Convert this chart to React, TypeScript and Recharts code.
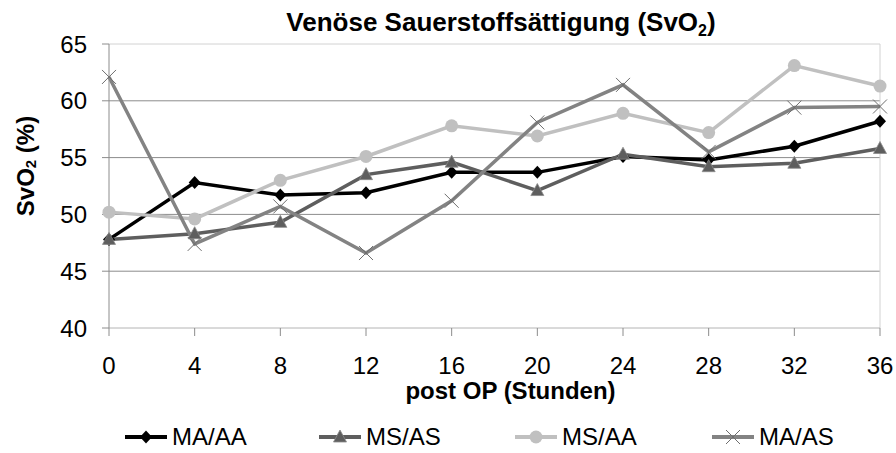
import { LineChart, Line, XAxis, YAxis, CartesianGrid, ReferenceLine, Legend } from "recharts";

// Messzeitpunkte (Stunden post OP)
const hours = [0, 4, 8, 12, 16, 20, 24, 28, 32, 36];
const yTicks = [40, 45, 50, 55, 60, 65];

// SvO2-Werte je Gruppe
const maAA = [47.8, 52.8, 51.7, 51.9, 53.7, 53.7, 55.1, 54.8, 56.0, 58.2];
const msAS = [47.8, 48.3, 49.3, 53.5, 54.6, 52.1, 55.3, 54.2, 54.5, 55.8];
const msAA = [50.2, 49.6, 53.0, 55.1, 57.8, 56.9, 58.9, 57.2, 63.1, 61.3];
const maAS = [62.1, 47.4, 50.7, 46.6, 51.2, 58.1, 61.4, 55.5, 59.4, 59.5];

const data = hours.map((h, i) => ({
  h,
  maAA: maAA[i],
  msAS: msAS[i],
  msAA: msAA[i],
  maAS: maAS[i],
}));

type MarkerProps = { cx: number; cy: number; color: string };

const Diamond = ({ cx, cy, color }: MarkerProps) => (
  <polygon points={`${cx},${cy - 6.5} ${cx + 6},${cy} ${cx},${cy + 6.5} ${cx - 6},${cy}`} fill={color} />
);
const Triangle = ({ cx, cy, color }: MarkerProps) => (
  <polygon points={`${cx},${cy - 7} ${cx + 6.5},${cy + 5} ${cx - 6.5},${cy + 5}`} fill={color} stroke="#8a8a8a" strokeWidth={0.8} />
);
const Circle = ({ cx, cy, color }: MarkerProps) => <circle cx={cx} cy={cy} r={6.5} fill={color} />;
const Cross = ({ cx, cy }: MarkerProps) => (
  <g stroke="#6e6e6e" strokeWidth={1}>
    <line x1={cx - 7} y1={cy - 7} x2={cx + 7} y2={cy + 7} />
    <line x1={cx - 7} y1={cy + 7} x2={cx + 7} y2={cy - 7} />
  </g>
);

const series = [
  { key: "maAA", name: "MA/AA", color: "#000000", marker: Diamond },
  { key: "msAS", name: "MS/AS", color: "#5e5e5e", marker: Triangle },
  { key: "msAA", name: "MS/AA", color: "#c0c0c0", marker: Circle },
  { key: "maAS", name: "MA/AS", color: "#838383", marker: Cross },
];

const legendLeft = [125, 319, 515, 712];

const LegendBox = () => (
  <div style={{ position: "relative", width: 896, height: 40 }}>
    {series.map((s, i) => {
      const M = s.marker;
      return (
        <div
          key={s.key}
          style={{ position: "absolute", left: legendLeft[i], top: 4, height: 40, display: "flex", alignItems: "center" }}
        >
          <svg width={42} height={18}>
            <line x1={0} y1={9} x2={42} y2={9} stroke={s.color} strokeWidth={4} />
            <M cx={21} cy={9} color={s.color} />
          </svg>
          <span style={{ fontSize: 24, marginLeft: 5, color: "#000" }}>{s.name}</span>
        </div>
      );
    })}
  </div>
);

const YLabel = (props: any) => {
  const vb = props.viewBox;
  const cx = vb.x + 25;
  const cy = vb.y + vb.height / 2 - 20;
  return (
    <text
      x={cx}
      y={cy}
      transform={`rotate(-90 ${cx} ${cy})`}
      textAnchor="middle"
      dominantBaseline="central"
      fontSize={24}
      fontWeight="bold"
      fill="#000"
    >
      SvO
      <tspan fontSize={15} dy={5}>2</tspan>
      <tspan dy={-5}> (%)</tspan>
    </text>
  );
};

const XLabel = (props: any) => {
  const vb = props.viewBox;
  return (
    <text x={vb.x + vb.width / 2 + 16} y={vb.y + 71} textAnchor="middle" fontSize={24} fontWeight="bold" fill="#000">
      post OP (Stunden)
    </text>
  );
};

export default function App() {
  return (
    <div
      style={{
        position: "absolute",
        left: 0,
        top: 0,
        width: 896,
        height: 453,
        background: "#fff",
        fontFamily: '"Liberation Sans", Arial, sans-serif',
      }}
    >
      <div
        style={{
          position: "absolute",
          left: 501,
          top: 9,
          transform: "translateX(-50%)",
          whiteSpace: "nowrap",
          fontSize: 26,
          fontWeight: "bold",
          lineHeight: 1,
          zIndex: 2,
        }}
      >
        Venöse Sauerstoffsättigung (SvO
        <span style={{ fontSize: 16, position: "relative", top: 5 }}>2</span>)
      </div>
      <LineChart width={896} height={453} data={data} margin={{ top: 44, right: 16, left: 0, bottom: 0 }}>
        <CartesianGrid vertical={false} horizontalValues={[45, 50, 55, 60]} stroke="#8c8c8c" />
        <ReferenceLine y={65} stroke="#d2d2d2" />
        <ReferenceLine x={36} stroke="#d2d2d2" />
        <XAxis
          type="number"
          dataKey="h"
          domain={[0, 36]}
          ticks={hours}
          interval={0}
          height={85}
          tickSize={8}
          tickMargin={21}
          tick={{ fill: "#000", fontSize: 24 }}
          axisLine={{ stroke: "#b4b4b4" }}
          tickLine={{ stroke: "#8c8c8c" }}
          label={{ content: XLabel }}
        />
        <YAxis
          domain={[40, 65]}
          ticks={yTicks}
          interval={0}
          width={109}
          tickSize={7}
          tickMargin={15}
          tick={{ fill: "#000", fontSize: 24 }}
          axisLine={{ stroke: "#8c8c8c" }}
          tickLine={{ stroke: "#8c8c8c" }}
          label={{ content: YLabel }}
        />
        <Legend verticalAlign="bottom" height={40} content={() => <LegendBox />} wrapperStyle={{ left: 0, width: 896 }} />
        {series.map((s) => {
          const M = s.marker;
          return (
            <Line
              key={s.key}
              type="linear"
              dataKey={s.key}
              name={s.name}
              stroke={s.color}
              strokeWidth={3.5}
              isAnimationActive={false}
              dot={(p: any) => <M key={`${s.key}-${p.index}`} cx={p.cx} cy={p.cy} color={s.color} />}
              activeDot={false}
            />
          );
        })}
      </LineChart>
    </div>
  );
}
